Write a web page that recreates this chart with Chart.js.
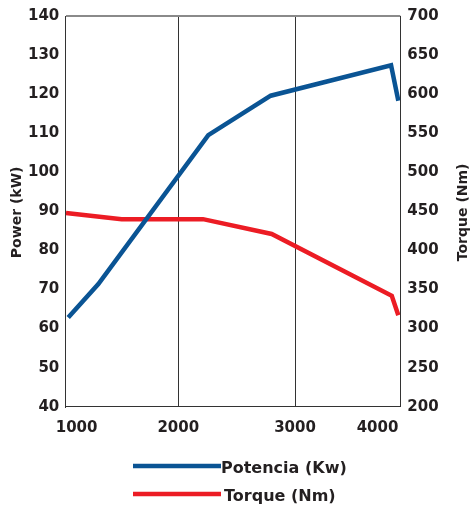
<!DOCTYPE html>
<html>
<head>
<meta charset="utf-8">
<script src="https://cdn.jsdelivr.net/npm/chart.js@4/dist/chart.umd.min.js"></script>
<style>
  html, body { margin: 0; padding: 0; background: #ffffff; }
  #wrap { position: relative; width: 475px; height: 511px; }
</style>
</head>
<body>
<div id="wrap"><canvas id="c"></canvas></div>
<script>
// ---- data ----
const powerRpm   = [1057, 1315, 2257, 2792, 3823, 3885];
const powerKw    = [62.8, 71.4, 109.5, 119.6, 127.4, 118.3];
const torqueRpm  = [1038, 1515, 2212, 2800, 3829, 3885];
const torqueNm   = [448, 440, 440, 421, 342, 317];
const xTickLabels = ['1000', '2000', '3000', '4000'];
const xTickValues = [1129, 2000, 3000, 3707];
const seriesNames = ['Potencia (Kw)', 'Torque (Nm)'];
const leftTitle  = 'Power (kW)';
const rightTitle = 'Torque (Nm)';

const BLUE = '#0a5494';
const RED = '#ec1c24';
const INK = '#231f20';
const FONT = '"DejaVu Sans", sans-serif';

const customDraw = {
  id: 'customDraw',
  afterDraw(chart) {
    const ctx = chart.ctx;
    const area = chart.chartArea;
    ctx.save();
    // axis titles, both reading bottom-to-top
    ctx.fillStyle = INK;
    ctx.font = 'bold 14px ' + FONT;
    ctx.textAlign = 'center';
    ctx.textBaseline = 'middle';
    const midY = (area.top + area.bottom) / 2 + 1;
    [[17.5, leftTitle], [463, rightTitle]].forEach(([x, t]) => {
      ctx.save();
      ctx.translate(x, midY);
      ctx.rotate(-Math.PI / 2);
      ctx.fillText(t, 0, 0);
      ctx.restore();
    });
    // legend
    const rows = [466, 494];
    chart.data.datasets.forEach((ds, i) => {
      const y = rows[i];
      ctx.strokeStyle = ds.borderColor;
      ctx.lineWidth = 4.5;
      ctx.lineCap = 'butt';
      ctx.beginPath();
      ctx.moveTo(133, y);
      ctx.lineTo(221, y);
      ctx.stroke();
      ctx.fillStyle = INK;
      ctx.font = 'bold 16px ' + FONT;
      ctx.textAlign = 'left';
      ctx.textBaseline = 'middle';
      ctx.fillText(ds.label, i === 0 ? 221 : 224, y + 2.5);
    });
    ctx.restore();
  }
};

new Chart(document.getElementById('c'), {
  type: 'line',
  data: {
    datasets: [
      {
        label: seriesNames[0],
        data: powerRpm.map((x, i) => ({ x: x, y: powerKw[i] })),
        yAxisID: 'yP',
        borderColor: BLUE,
        backgroundColor: BLUE,
        borderWidth: 4.5,
        pointRadius: 0,
        tension: 0,
        borderJoinStyle: 'miter',
        fill: false
      },
      {
        label: seriesNames[1],
        data: torqueRpm.map((x, i) => ({ x: x, y: torqueNm[i] })),
        yAxisID: 'yT',
        borderColor: RED,
        backgroundColor: RED,
        borderWidth: 4.5,
        pointRadius: 0,
        tension: 0,
        borderJoinStyle: 'miter',
        fill: false
      }
    ]
  },
  options: {
    responsive: true,
    maintainAspectRatio: false,
    animation: false,
    layout: { padding: { top: 9, bottom: 64.3, left: 0, right: 0 } },
    plugins: {
      legend: { display: false },
      tooltip: { enabled: false }
    },
    scales: {
      x: {
        type: 'linear',
        min: 1032,
        max: 3902,
        afterBuildTicks: (axis) => { axis.ticks = xTickValues.map(v => ({ value: v })); },
        afterFit: (s) => { s.height = 40; },
        ticks: {
          autoSkip: false,
          maxRotation: 0,
          padding: 12,
          color: INK,
          font: { family: FONT, size: 15, weight: 'bold' },
          callback: (v, i) => xTickLabels[i]
        },
        grid: {
          drawTicks: false,
          lineWidth: 1,
          color: (c) => (c.tick && (c.tick.value === 2000 || c.tick.value === 3000)) ? '#333333' : 'rgba(0,0,0,0)'
        },
        border: { display: true, color: '#333333', width: 1 }
      },
      yP: {
        type: 'linear',
        position: 'left',
        min: 40,
        max: 140,
        afterFit: (s) => { s.width = 65.3; },
        ticks: {
          stepSize: 10,
          padding: 6,
          color: INK,
          font: { family: FONT, size: 15, weight: 'bold' }
        },
        grid: {
          drawTicks: false,
          lineWidth: 2,
          color: (c) => (c.tick && c.tick.value === 140) ? '#8a8a8a' : 'rgba(0,0,0,0)'
        },
        border: { display: true, color: '#333333', width: 1 }
      },
      yT: {
        type: 'linear',
        position: 'right',
        min: 200,
        max: 700,
        afterFit: (s) => { s.width = 74.7; },
        ticks: {
          stepSize: 50,
          padding: 7,
          color: INK,
          font: { family: FONT, size: 15, weight: 'bold' }
        },
        grid: { display: false, drawTicks: false },
        border: { display: true, color: '#333333', width: 1 }
      }
    }
  },
  plugins: [customDraw]
});
</script>
</body>
</html>
